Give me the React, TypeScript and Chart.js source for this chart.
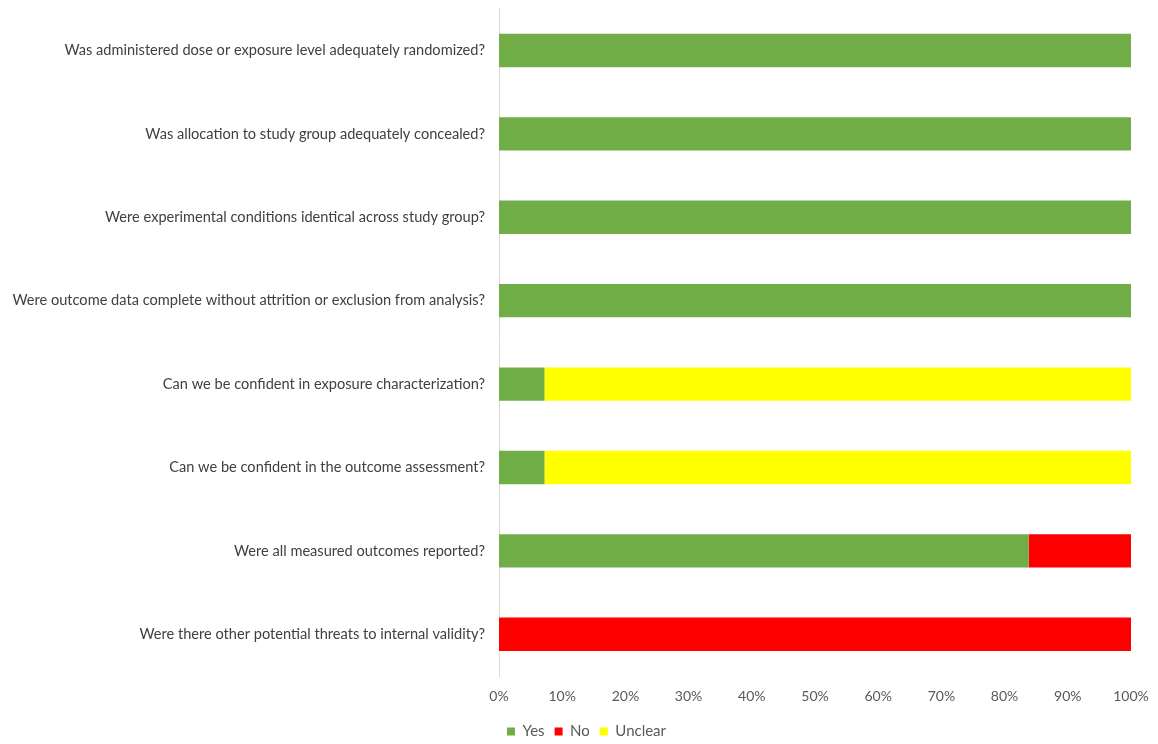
import React, { useEffect, useRef } from "react";
import { Chart, registerables } from "chart.js";

Chart.register(...registerables);

const categories = [
  "Was administered dose or exposure level adequately randomized?",
  "Was allocation to study group adequately concealed?",
  "Were experimental conditions identical across study group?",
  "Were outcome data complete without attrition or exclusion from analysis?",
  "Can we be confident in exposure characterization?",
  "Can we be confident in the outcome assessment?",
  "Were all measured outcomes reported?",
  "Were there other potential threats to internal validity?",
];

const yesValues = [100, 100, 100, 100, 7.2, 7.2, 83.8, 0];
const noValues = [0, 0, 0, 0, 0, 0, 16.2, 100];
const unclearValues = [0, 0, 0, 0, 92.8, 92.8, 0, 0];

const xTicks = [0, 10, 20, 30, 40, 50, 60, 70, 80, 90, 100];

const FONT = "Lato, 'Liberation Sans', sans-serif";

const legendShift = {
  id: "legendShift",
  afterLayout(chart: any) {
    const l = chart.legend;
    if (l) {
      l.left += 21;
      l.right += 21;
      l.top += 5;
      l.bottom += 5;
    }
  },
};

export default function App() {
  const ref = useRef<HTMLCanvasElement | null>(null);
  useEffect(() => {
    if (!ref.current) return;
    const chart = new Chart(ref.current, {
      type: "bar",
      data: {
        labels: categories,
        datasets: [
          { label: "Yes", data: yesValues, backgroundColor: "#70AD47" },
          { label: "No", data: noValues, backgroundColor: "#FF0000" },
          { label: "Unclear", data: unclearValues, backgroundColor: "#FFFF00" },
        ],
      },
      plugins: [legendShift],
      options: {
        indexAxis: "y",
        animation: false,
        responsive: false,
        maintainAspectRatio: false,
        datasets: { bar: { categoryPercentage: 1, barPercentage: 0.4, borderWidth: 0 } },
        layout: { padding: { top: 1, right: 27, left: 0, bottom: 0 } },
        scales: {
          x: {
            stacked: true,
            min: 0,
            max: 100,
            afterBuildTicks: (scale: any) => {
              scale.ticks = xTicks.map((v) => ({ value: v }));
            },
            afterFit: (scale: any) => {
              scale.height = 33;
            },
            ticks: {
              callback: (v: any) => v + "%",
              color: "#595959",
              font: { family: FONT, size: 14 },
              padding: 4,
              maxRotation: 0,
            },
            grid: { display: false },
            border: { display: false },
          },
          y: {
            stacked: true,
            ticks: {
              color: "#404040",
              font: { family: FONT, size: 14.6 },
              padding: 0,
            },
            grid: { display: false, tickLength: 14 },
            border: { display: true, color: "#D9D9D9", width: 1 },
            afterFit: (scale: any) => {
              scale.width = 499;
            },
          },
        },
        plugins: {
          legend: {
            position: "bottom",
            labels: {
              boxWidth: 8,
              boxHeight: 8,
              padding: 10,
              color: "#595959",
              font: { family: FONT, size: 15 },
            },
          },
          tooltip: { enabled: false },
        },
      },
    });
    return () => chart.destroy();
  }, []);
  return (
    <div style={{ position: "fixed", left: 0, top: 0, width: 1158, height: 744, background: "#fff" }}>
      <canvas ref={ref} width={1158} height={744} style={{ width: 1158, height: 744 }} />
    </div>
  );
}
